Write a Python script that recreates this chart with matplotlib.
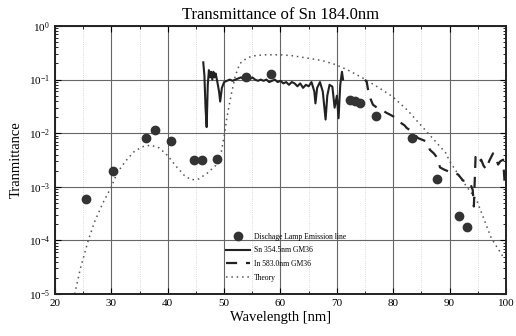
import numpy as np
import matplotlib
matplotlib.use("Agg")
import matplotlib.pyplot as plt
from matplotlib.ticker import MultipleLocator, LogLocator, LogFormatterMathtext, NullFormatter

plt.rcParams['font.family'] = ['Liberation Serif', 'DejaVu Serif']
plt.rcParams['mathtext.fontset'] = 'stix'

# discharge lamp emission lines (dots)
lamp_x = [25.5, 30.3, 36.1, 37.7, 40.5, 44.6, 46.1, 48.8, 53.8, 58.3,
          72.3, 73.2, 74.1, 76.9, 83.3, 87.7, 91.7, 93.1]
lamp_y = [6.0e-4, 2.0e-3, 8.3e-3, 1.13e-2, 7.2e-3, 3.1e-3, 3.2e-3, 3.3e-3, 0.113, 0.126,
          0.042, 0.040, 0.037, 0.021, 0.0080, 0.00138, 2.9e-4, 1.75e-4]

# Sn 354.5nm GM36 (solid)
sn_x = [46.3, 46.5, 46.7, 46.9, 47.1, 47.3, 47.5, 47.7, 47.9, 48.1, 48.3, 48.5, 48.8, 49.1,
        49.3, 49.6, 50.0, 50.5, 51.0, 51.5, 52.0, 52.5, 53.0, 53.5, 54.0, 54.5, 55.0, 55.5,
        56.0, 56.5, 57.0, 57.5, 58.0, 58.5, 59.0, 59.5, 60.0, 60.5, 61.0, 61.5, 62.0, 62.5,
        63.0, 63.5, 64.0, 64.5, 65.0, 65.5, 66.0, 66.2, 66.5, 67.0, 67.5, 68.0, 68.3, 68.7,
        69.2, 69.6, 70.0, 70.3, 70.6, 70.9, 71.1]
sn_y = [0.21, 0.12, 0.03, 0.013, 0.08, 0.15, 0.11, 0.14, 0.10, 0.14, 0.11, 0.13, 0.09, 0.06,
        0.039, 0.07, 0.09, 0.095, 0.10, 0.095, 0.10, 0.105, 0.11, 0.10, 0.095, 0.10, 0.11, 0.10,
        0.095, 0.10, 0.095, 0.10, 0.09, 0.095, 0.10, 0.09, 0.095, 0.085, 0.09, 0.08, 0.09, 0.085,
        0.075, 0.085, 0.07, 0.08, 0.075, 0.09, 0.06, 0.036, 0.07, 0.09, 0.06, 0.018, 0.05, 0.08,
        0.074, 0.03, 0.05, 0.019, 0.08, 0.14, 0.10]

# In 583.0nm GM36 (dashed)
in_x = [75.0, 75.3, 75.7, 76.4, 77.3, 78.0, 78.8, 79.5, 80.6, 81.2, 82.0, 82.4, 83.2, 84.4,
        85.2, 85.9, 86.5, 87.2, 87.7, 88.3, 89.0, 90.0, 90.8, 91.5, 92.4, 93.0, 93.6, 94.1,
        94.3, 94.6, 95.0, 95.6, 96.0, 96.5, 97.0, 97.7, 98.2, 98.6, 99.0, 99.5, 99.8]
in_y = [0.10, 0.09, 0.051, 0.034, 0.029, 0.027, 0.024, 0.022, 0.019, 0.016, 0.014, 0.0125, 0.011, 0.0081,
        0.0075, 0.007, 0.0049, 0.0042, 0.0036, 0.0023, 0.0021, 0.0019, 0.0018, 0.0017, 0.0013, 0.0013, 0.0012, 0.00087,
        0.00043, 0.0036, 0.0028, 0.0032, 0.0025, 0.0021, 0.003, 0.0042, 0.0035, 0.0026, 0.003, 0.0032, 0.001]

# Theory (dotted)
th_x = [23.5, 24.5, 25.9, 27.0, 28.5, 30.0, 31.0, 32.5, 34.0, 35.5, 37.0, 38.5, 40.0, 41.5,
        43.0, 44.2, 45.5, 47.0, 48.5, 49.5, 50.1, 50.5, 51.3, 52.0, 52.8, 54.0, 55.0, 57.0,
        60.0, 62.0, 65.0, 67.5, 69.8, 72.0, 75.1, 77.5, 79.9, 82.5, 85.2, 87.5, 89.3, 90.0,
        92.5, 94.8, 97.4, 99.4]
th_y = [1e-5, 3e-5, 1e-4, 2.2e-4, 5e-4, 1e-3, 1.8e-3, 3e-3, 4.5e-3, 5.6e-3, 6.0e-3, 5.3e-3, 3.8e-3, 2.4e-3,
        1.6e-3, 1.35e-3, 1.4e-3, 1.8e-3, 2.5e-3, 4.5e-3, 1.0e-2, 2.0e-2, 5.5e-2, 0.12, 0.20, 0.25, 0.275, 0.29,
        0.29, 0.28, 0.25, 0.225, 0.19, 0.15, 0.10, 0.07, 0.048, 0.027, 0.013, 7e-3, 4.3e-3, 3.0e-3,
        1.2e-3, 5.6e-4, 1.1e-4, 5.1e-5]

fig = plt.figure(figsize=(5.16, 3.36), dpi=100)
ax = fig.add_axes([0.1066, 0.125, 0.874, 0.7976])

ax.plot(lamp_x, lamp_y, 'o', color='#333333', markersize=6, label='Dischage Lamp Emission line', zorder=4)
ax.plot(sn_x, sn_y, '-', color='#222222', lw=1.5, label='Sn 354.5nm GM36', zorder=3)
ax.plot(in_x, in_y, color='#222222', lw=1.6, linestyle=(0, (5, 4)), label='In 583.0nm GM36', zorder=3)
ax.plot(th_x, th_y, color='#555555', lw=1.1, linestyle=(0, (1, 2.5)), label='Theory', zorder=2)

ax.set_yscale('log')
ax.set_xlim(20, 100)
ax.set_ylim(1e-5, 1)
ax.xaxis.set_major_locator(MultipleLocator(10))
ax.xaxis.set_minor_locator(MultipleLocator(5))
ax.yaxis.set_major_locator(LogLocator(base=10, numticks=10))
ax.yaxis.set_major_formatter(LogFormatterMathtext())
ax.yaxis.set_minor_locator(LogLocator(base=10, subs=np.arange(2, 10), numticks=10))
ax.yaxis.set_minor_formatter(NullFormatter())

ax.grid(True, which='major', color='#666666', lw=0.8)
ax.grid(True, which='minor', axis='x', color='#cccccc', lw=0.6, linestyle=':')
ax.tick_params(which='both', direction='in', top=True, right=True, labelsize=8)
ax.tick_params(which='major', length=4)
ax.tick_params(which='minor', length=2)
for s in ax.spines.values():
    s.set_linewidth(1.4)
    s.set_color('#222222')

ax.set_title('Transmittance of Sn 184.0nm', fontsize=12, pad=5)
ax.set_xlabel('Wavelength [nm]', fontsize=10.5, labelpad=2)
ax.set_ylabel('Tranmittance', fontsize=10.5, labelpad=4)

leg = ax.legend(loc='lower left', bbox_to_anchor=(0.364, 0.02), frameon=False, fontsize=5.5,
                handlelength=3.2, handletextpad=0.5, labelspacing=0.75)

fig.savefig('out.png', dpi=100)
